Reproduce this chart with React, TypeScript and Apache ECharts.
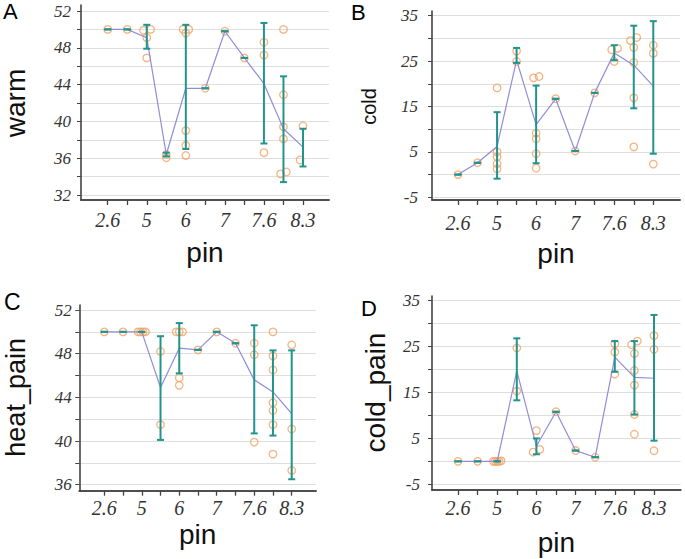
import React, { useEffect, useRef } from "react";
import * as echarts from "echarts";

const pins = ["2.6", "3.8", "5", "5.5", "6", "6.5", "7", "7.3", "7.6", "8", "8.3"];

// points: [pinIndex, jitter (in category units), value]
const warmPoints = [
  [0, 0, 50], [1, 0, 50],
  [2, -0.17, 49.9], [2, 0.2, 50], [2, 0, 49.1], [2, 0, 46.9],
  [3, 0, 36.4], [3, 0, 36.05],
  [4, -0.14, 50], [4, 0.15, 50], [4, 0, 49.6], [4, 0, 39], [4, 0, 37.4], [4, 0, 36.3],
  [5, 0, 43.6], [6, 0, 49.8], [7, 0, 46.9],
  [8, 0, 48.6], [8, 0, 47.2], [8, 0, 36.6],
  [9, 0, 50], [9, 0, 42.9], [9, 0, 39.4], [9, 0, 38.1], [9, -0.15, 34.3], [9, 0.15, 34.5],
  [10, 0, 39.5], [10, -0.15, 35.8], [10, 0.15, 36],
];
const warmMean = [50, 50, 49.1, 36.4, 43.6, 43.6, 49.8, 46.9, 44.1, 39.2, 37.2];
const warmLow = [50, 50, 47.9, 36.2, 37, 43.6, 49.8, 46.9, 37.6, 33.4, 35.1];
const warmHigh = [50, 50, 50.5, 36.6, 50.5, 43.6, 49.8, 46.9, 50.7, 44.9, 39.2];

const coldPoints = [
  [0, 0, 0], [1, 0, 2.6],
  [2, 0, 19.1], [2, 0, 5], [2, 0, 3.9], [2, 0, 2.4], [2, 0, 1.25],
  [3, 0, 27.2], [3, 0, 24.9],
  [4, -0.13, 21.3], [4, 0.15, 21.6], [4, 0, 9.1], [4, 0, 7.9], [4, 0, 4.6], [4, 0, 1.4],
  [5, 0, 16.7], [6, 0, 5.2], [7, 0, 18],
  [8, -0.13, 27.5], [8, 0.17, 27.8], [8, 0, 24.9],
  [9, -0.17, 29.5], [9, 0.15, 30.2], [9, 0, 28], [9, 0, 24.7], [9, 0, 16.9], [9, 0, 6.1],
  [10, 0, 28.5], [10, 0, 26.7], [10, 0, 2.3],
];
const coldMean = [0, 2.6, 6.2, 25.2, 11, 16.7, 5.2, 18, 26.8, 24.1, 19.5];
const coldLow = [0, 2.6, -0.9, 24.6, 2.5, 16.7, 5.2, 18, 25.2, 14.6, 4.6];
const coldHigh = [0, 2.6, 13.75, 27.9, 19.6, 16.7, 5.2, 18, 28.5, 32.8, 33.8];

const heatPainPoints = [
  [0, 0, 50], [1, 0, 50],
  [2, -0.2, 50], [2, -0.07, 50], [2, 0.07, 50], [2, 0.2, 50],
  [3, 0, 48.2], [3, 0, 41.5],
  [4, -0.16, 50], [4, 0, 50], [4, 0.17, 50], [4, 0, 45.8], [4, 0, 45.1],
  [5, 0, 48.35], [6, 0, 50], [7, 0, 48.95],
  [8, 0, 48.95], [8, 0, 47.9], [8, 0, 39.9],
  [9, 0, 50], [9, 0, 47.8], [9, 0, 46.5], [9, 0, 43.5], [9, 0, 42.8], [9, 0, 41.5], [9, 0, 38.8],
  [10, 0, 48.8], [10, 0, 41.1], [10, 0, 37.3],
];
const heatPainMean = [50, 50, 50, 44.9, 48.5, 48.35, 50, 48.95, 45.6, 44.5, 42.5];
const heatPainLow = [50, 50, 50, 40.1, 46.2, 48.35, 50, 48.95, 40.7, 40.5, 36.5];
const heatPainHigh = [50, 50, 50, 49.6, 50.8, 48.35, 50, 48.95, 50.6, 48.3, 48.3];

const coldPainPoints = [
  [0, 0, 0], [1, 0, 0],
  [2, -0.2, 0], [2, -0.1, 0], [2, 0, 0], [2, 0.1, 0], [2, 0.2, 0.1],
  [3, 0, 24.7], [3, 0, 15.3],
  [4, 0, 6.7], [4, -0.17, 2.0], [4, 0.17, 2.6],
  [5, 0, 10.8], [6, 0, 2.35], [7, 0, 0.9],
  [8, 0, 25.6], [8, 0, 23.8], [8, 0, 19],
  [9, -0.15, 25.4], [9, 0.15, 26.2], [9, 0, 23.5], [9, 0, 19.8], [9, 0, 16.6], [9, 0, 10.2], [9, 0, 5.9],
  [10, 0, 27.4], [10, 0, 24.4], [10, 0, 2.3],
];
const coldPainMean = [0, 0, 0, 19.7, 3.3, 10.8, 2.35, 0.9, 22.7, 18.3, 18.1];
const coldPainLow = [0, 0, 0, 13.3, 1.55, 10.8, 2.35, 0.9, 19.5, 10.2, 4.5];
const coldPainHigh = [0, 0, 0, 26.8, 5.0, 10.8, 2.35, 0.9, 26.2, 26.2, 31.9];

const ORANGE = "#f3a263";
const TEAL = "#22948c";
const PURPLE = "#8f8dda";
const AXIS = "#444";
const GRIDC = "#dedede";
const SERIF = "'Liberation Serif', 'Times New Roman', serif";
const SANS = "'Liberation Sans', Arial, sans-serif";

const panels = [
  {
    letter: "A", name: "warm", nameSize: 28, nameGap: 52,
    points: warmPoints, mean: warmMean, low: warmLow, high: warmHigh,
    min: 32, max: 52, step: 2, labelFrom: 32, labelStep: 4,
    frame: { left: 81, top: 5, width: 248, height: 195 },
    val: { left: 81, top: 11, width: 248, height: 184 },
    ser: { left: 107.7, top: 11, width: 195.3, height: 184 },
    xOffset: 5, xLabelMargin: 10, yLabelMargin: 10, pinGap: 38,
    letterPos: [3, 0.5], letterSize: 22,
  },
  {
    letter: "B", name: "cold", nameSize: 20, nameGap: 53,
    points: coldPoints, mean: coldMean, low: coldLow, high: coldHigh,
    min: -5, max: 35, step: 5, labelFrom: -5, labelStep: 10,
    frame: { left: 432, top: 11, width: 248, height: 189 },
    val: { left: 432, top: 15.7, width: 248, height: 181.6 },
    ser: { left: 458, top: 15.7, width: 195.3, height: 181.6 },
    xOffset: 2.7, xLabelMargin: 13, yLabelMargin: 14, pinGap: 39,
    letterPos: [351, 1], letterSize: 22,
  },
  {
    letter: "C", name: "heat_pain", nameSize: 27, nameGap: 50,
    points: heatPainPoints, mean: heatPainMean, low: heatPainLow, high: heatPainHigh,
    min: 36, max: 52, step: 2, labelFrom: 36, labelStep: 4,
    frame: { left: 79.3, top: 305, width: 236.7, height: 185.7 },
    val: { left: 79.3, top: 310, width: 236.7, height: 174.7 },
    ser: { left: 104.3, top: 310, width: 187.4, height: 174.7 },
    xOffset: 6, xLabelMargin: 7, yLabelMargin: 7.6, pinGap: 30,
    letterPos: [4, 290.5], letterSize: 23,
  },
  {
    letter: "D", name: "cold_pain", nameSize: 28, nameGap: 43,
    points: coldPainPoints, mean: coldPainMean, low: coldPainLow, high: coldPainHigh,
    min: -5, max: 35, step: 5, labelFrom: -5, labelStep: 10,
    frame: { left: 432, top: 296, width: 248.7, height: 194 },
    val: { left: 432, top: 300.7, width: 248.7, height: 183.6 },
    ser: { left: 458, top: 300.7, width: 196, height: 183.6 },
    xOffset: 5.7, xLabelMargin: 8, yLabelMargin: 12, pinGap: 38,
    letterPos: [361, 297], letterSize: 22,
  },
];

function buildOption() {
  const grid: any[] = [];
  const xAxis: any[] = [];
  const yAxis: any[] = [];
  const series: any[] = [];
  const graphic: any[] = [];

  panels.forEach((p, k) => {
    const gFrame = k * 3, gVal = k * 3 + 1, gSer = k * 3 + 2;
    grid.push({ ...p.frame }, { ...p.val }, { ...p.ser });

    // frame grid: L-shaped axis lines + x name "pin"
    xAxis.push({
      gridIndex: gFrame, type: "value", min: 0, max: 1, position: "bottom",
      axisLine: { show: true, onZero: false, lineStyle: { color: AXIS, width: 1.6 } },
      axisTick: { show: false }, axisLabel: { show: false }, splitLine: { show: false },
      name: "pin", nameLocation: "middle", nameGap: p.pinGap,
      nameTextStyle: { fontFamily: SANS, fontSize: 28, color: "#111" },
      z: 5,
    });
    yAxis.push({
      gridIndex: gFrame, type: "value", min: 0, max: 1, position: "left",
      axisLine: { show: true, onZero: false, lineStyle: { color: AXIS, width: 1.6 } },
      axisTick: { show: false }, axisLabel: { show: false }, splitLine: { show: false },
      z: 5,
    });

    // value grid: y labels, ticks, grid lines, y name; x axis line (offset below the value range)
    xAxis.push({
      gridIndex: gVal, type: "value", min: 0, max: 1, position: "bottom", offset: p.xOffset,
      axisLine: { show: true, onZero: false, lineStyle: { color: AXIS, width: 1.6 } },
      axisTick: { show: false }, axisLabel: { show: false }, splitLine: { show: false },
      z: 5,
    });
    yAxis.push({
      gridIndex: gVal, type: "value", min: p.min, max: p.max, interval: p.step, position: "left",
      axisLine: { show: false, onZero: false },
      axisTick: { show: true, length: 4, lineStyle: { color: AXIS, width: 1 } },
      axisLabel: {
        margin: p.yLabelMargin, fontFamily: SERIF, fontStyle: "italic", fontSize: 17, color: "#333",
        formatter: (v: number) => (Math.round(v - p.labelFrom) % p.labelStep === 0 ? String(v) : ""),
      },
      splitLine: { show: true, lineStyle: { color: GRIDC, width: 1 } },
      name: p.name, nameLocation: "middle", nameGap: p.nameGap, nameRotate: 90,
      nameTextStyle: { fontFamily: SANS, fontSize: p.nameSize, color: "#111" },
    });

    // series grid
    xAxis.push({
      gridIndex: gSer, type: "value", min: 0, max: pins.length - 1, interval: 1,
      position: "bottom", offset: p.xOffset,
      axisLine: { show: false, onZero: false },
      axisTick: { show: true, length: 5, lineStyle: { color: AXIS, width: 1.3 } },
      axisLabel: {
        margin: p.xLabelMargin, fontFamily: SERIF, fontStyle: "italic", fontSize: 20, color: "#333",
        formatter: (v: number) => (Math.round(v) % 2 === 0 ? pins[Math.round(v)] : ""),
      },
      splitLine: { show: false },
    });
    yAxis.push({ gridIndex: gSer, type: "value", min: p.min, max: p.max, show: false, axisLine: { onZero: false } });

    const xi = gSer, yi = gSer;
    series.push({
      type: "scatter", xAxisIndex: xi, yAxisIndex: yi,
      data: p.points.map(([i, j, v]) => [i + j, v]),
      symbol: "circle", symbolSize: 7.5,
      itemStyle: { color: "rgba(0,0,0,0)", borderColor: ORANGE, borderWidth: 1.3 },
      z: 2,
    });
    series.push({
      type: "line", xAxisIndex: xi, yAxisIndex: yi,
      data: p.mean.map((m, i) => [i, m]),
      symbol: "none", lineStyle: { color: PURPLE, width: 1.2 }, z: 3,
    });
    series.push({
      type: "custom", xAxisIndex: xi, yAxisIndex: yi,
      data: p.mean.map((_, i) => [i, p.low[i], p.high[i]]),
      encode: { x: 0, y: [1, 2] },
      z: 4,
      renderItem: (params: any, api: any) => {
        const x = api.value(0);
        const lo = api.coord([x, api.value(1)]);
        const hi = api.coord([x, api.value(2)]);
        const w = 3.5;
        const style = { stroke: TEAL, lineWidth: 2 };
        return {
          type: "group",
          children: [
            { type: "line", shape: { x1: lo[0], y1: lo[1], x2: hi[0], y2: hi[1] }, style },
            { type: "line", shape: { x1: lo[0] - w, y1: lo[1], x2: lo[0] + w, y2: lo[1] }, style },
            { type: "line", shape: { x1: hi[0] - w, y1: hi[1], x2: hi[0] + w, y2: hi[1] }, style },
          ],
        };
      },
    });

    graphic.push({
      type: "text", x: p.letterPos[0], y: p.letterPos[1],
      style: { text: p.letter, fontFamily: SANS, fontSize: p.letterSize, fill: "#000" },
    });
  });

  return { animation: false, backgroundColor: "#fff", grid, xAxis, yAxis, series, graphic };
}

export default function App() {
  const ref = useRef<HTMLDivElement>(null);
  useEffect(() => {
    if (!ref.current) return;
    const chart = echarts.init(ref.current, undefined, { renderer: "svg" });
    chart.setOption(buildOption() as any);
    return () => chart.dispose();
  }, []);
  return (
    <div
      ref={ref}
      style={{ position: "fixed", left: 0, top: 0, width: 685, height: 559, background: "#fff" }}
    />
  );
}
